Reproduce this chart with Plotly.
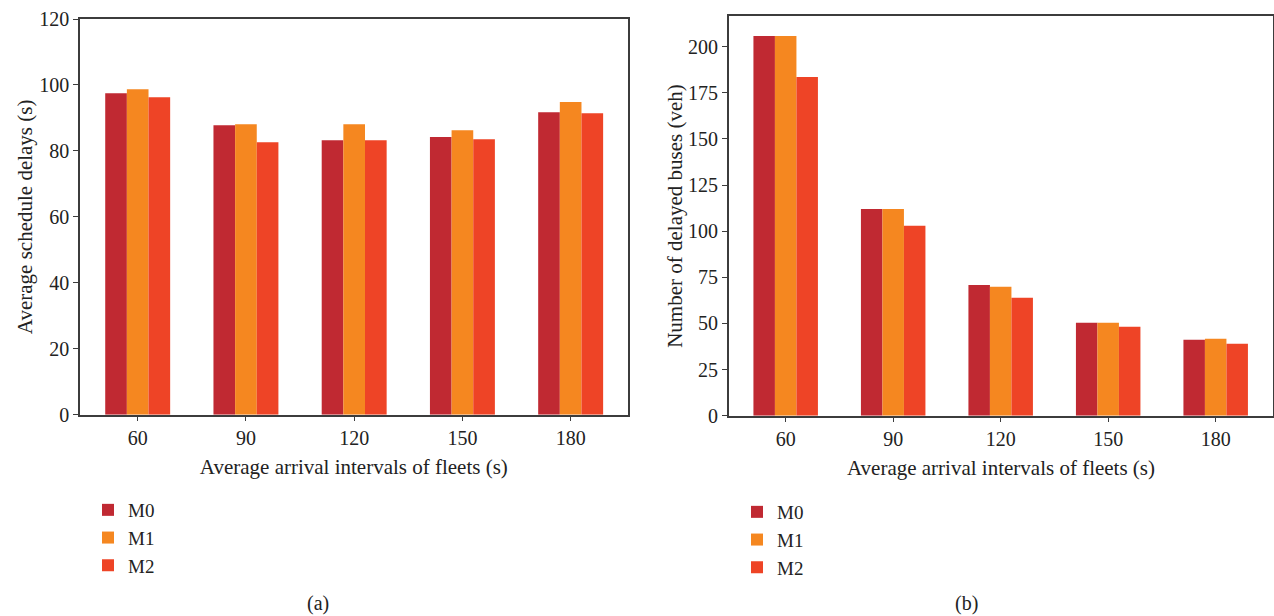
import plotly.graph_objects as go

categories = ["60", "90", "120", "150", "180"]
series_names = ["M0", "M1", "M2"]
colors = ["#C02932", "#F58720", "#EE4426"]

# (a) Average schedule delays (s)
delays_m0 = [97.5, 87.8, 83.2, 84.2, 91.7]
delays_m1 = [98.7, 88.1, 88.1, 86.3, 94.8]
delays_m2 = [96.3, 82.6, 83.2, 83.5, 91.4]

# (b) Number of delayed buses (veh)
buses_m0 = [205.8, 112.1, 70.9, 50.4, 41.2]
buses_m1 = [205.8, 112.1, 69.9, 50.4, 41.7]
buses_m2 = [183.6, 102.9, 63.9, 48.2, 39.0]

W, H = 1274, 616
FONT = "Liberation Serif, Times New Roman, serif"
AXC = "#3c3c3c"
TXT = "#222"

fig = go.Figure()
for name, col, vals in zip(series_names, colors, [delays_m0, delays_m1, delays_m2]):
    fig.add_trace(go.Bar(x=categories, y=vals, name=name, marker=dict(color=col, line=dict(width=0)),
                         xaxis="x", yaxis="y", legend="legend"))
for name, col, vals in zip(series_names, colors, [buses_m0, buses_m1, buses_m2]):
    fig.add_trace(go.Bar(x=categories, y=vals, name=name, marker=dict(color=col, line=dict(width=0)),
                         xaxis="x2", yaxis="y2", legend="legend2"))

def px_x(v):
    return v / W

def px_y(v):
    return 1 - v / H

axis_common = dict(showline=True, linecolor=AXC, linewidth=1.5, mirror=True, ticks="outside",
                   ticklen=5, tickcolor=AXC, tickwidth=1.2, showgrid=False, zeroline=False,
                   tickfont=dict(family=FONT, size=20, color=TXT), automargin=False)
title_font = dict(family=FONT, size=21, color=TXT)

fig.update_layout(
    width=W, height=H, margin=dict(l=0, r=0, t=0, b=0),
    paper_bgcolor="white", plot_bgcolor="white",
    barmode="group", bargap=0.4, bargroupgap=0,
    font=dict(family=FONT, size=20, color=TXT),
    xaxis=dict(axis_common, domain=[px_x(80), px_x(627.7)], range=[-0.533, 4.527], type="category",
               anchor="y",
               title=dict(text="Average arrival intervals of fleets (s)", font=title_font, standoff=11)),
    yaxis=dict(axis_common, domain=[px_y(414.7), px_y(19)], range=[0, 120], dtick=20, anchor="x",
               title=dict(text="Average schedule delays (s)", font=title_font, standoff=1)),
    xaxis2=dict(axis_common, domain=[px_x(728.7), px_x(1273.3)], range=[-0.53, 4.536], type="category",
                anchor="y2",
                title=dict(text="Average arrival intervals of fleets (s)", font=title_font, standoff=11)),
    yaxis2=dict(axis_common, domain=[px_y(415.7), px_y(16.3)], range=[0, 216.5], dtick=25, anchor="x2",
                title=dict(text="Number of delayed buses (veh)", font=title_font, standoff=0)),
    legend=dict(x=px_x(88), y=px_y(491), xanchor="left", yanchor="top",
                font=dict(family=FONT, size=19, color=TXT), bgcolor="rgba(0,0,0,0)"),
    legend2=dict(x=px_x(737), y=px_y(493), xanchor="left", yanchor="top",
                 font=dict(family=FONT, size=19, color=TXT), bgcolor="rgba(0,0,0,0)"),
    annotations=[
        dict(text="(a)", x=px_x(318), y=px_y(603), xref="paper", yref="paper", showarrow=False,
             font=dict(family=FONT, size=20, color=TXT), xanchor="center", yanchor="middle"),
        dict(text="(b)", x=px_x(966), y=px_y(603), xref="paper", yref="paper", showarrow=False,
             font=dict(family=FONT, size=20, color=TXT), xanchor="center", yanchor="middle"),
    ],
)

fig.write_html("out.html")
